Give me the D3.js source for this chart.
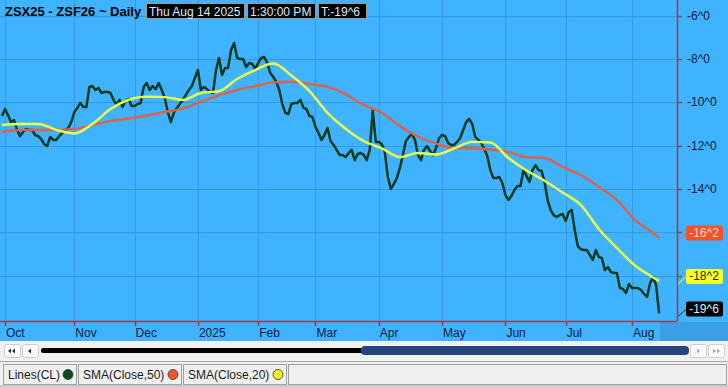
<!DOCTYPE html>
<html>
<head>
<meta charset="utf-8">
<script src="https://cdn.jsdelivr.net/npm/d3@7"></script>
<style>
  body { margin: 0; background: #f0f0f0; }
  svg { display: block; font-family: "Liberation Sans", Arial, sans-serif; }
</style>
</head>
<body>
<div id="chart"></div>
<script>
// ===== DATA =====
// daily close of the spread, one value per trading day (Sep 30 2024 .. Aug 14 2025)
const closes = [
  -10.63,-10.31,-10.59,-10.91,-10.82,-11.28,-11.56,-11.37,-11.23,-11.28,
  -11.28,-11.51,-11.56,-11.70,-11.93,-12.02,-11.60,-11.74,-11.74,-11.56,
  -11.42,-11.28,-11.19,-10.91,-10.45,-10.26,-10.03,-10.22,-10.22,-9.29,
  -9.25,-9.43,-9.34,-9.57,-9.52,-9.52,-9.57,-9.89,-10.12,-9.89,
  -10.22,-9.94,-9.85,-10.17,-10.17,-10.08,-10.03,-9.29,-9.11,-9.43,
  -9.25,-9.39,-9.11,-9.43,-9.80,-10.45,-10.91,-10.49,-10.26,-10.08,
  -9.89,-9.66,-9.43,-9.25,-8.88,-8.51,-9.43,-9.29,-9.39,-9.52,
  -9.57,-8.51,-7.95,-8.74,-8.42,-8.42,-7.58,-7.26,-7.95,-8.00,
  -8.00,-8.37,-8.18,-8.23,-8.46,-8.18,-7.95,-7.91,-8.18,-8.65,
  -8.83,-9.06,-9.43,-10.08,-10.49,-10.54,-10.08,-10.03,-10.03,-9.89,
  -10.26,-10.31,-10.63,-10.68,-11.14,-11.42,-11.74,-11.51,-11.19,-11.79,
  -11.97,-12.20,-12.43,-12.43,-12.53,-12.34,-12.20,-12.67,-12.39,-12.34,
  -12.43,-12.67,-12.20,-10.36,-11.83,-11.83,-11.93,-12.30,-13.45,-14.00,
  -13.77,-13.50,-13.03,-12.43,-11.79,-11.60,-11.46,-11.74,-12.43,-12.67,
  -12.20,-12.02,-12.25,-12.43,-12.11,-11.65,-11.51,-11.56,-11.88,-11.97,
  -11.97,-11.83,-11.65,-11.28,-10.91,-10.77,-11.00,-11.60,-11.74,-11.88,
  -12.16,-12.48,-13.13,-13.50,-13.50,-13.45,-13.73,-14.28,-14.51,-14.33,
  -14.05,-13.87,-13.87,-13.13,-13.40,-13.68,-13.13,-12.90,-13.13,-13.17,
  -13.68,-14.51,-14.97,-15.21,-15.30,-15.21,-15.16,-15.48,-15.07,-14.97,
  -15.90,-16.64,-16.78,-16.82,-16.82,-17.05,-17.28,-16.82,-17.15,-17.19,
  -17.75,-17.61,-17.84,-17.88,-17.88,-18.58,-18.62,-18.81,-18.39,-18.58,
  -18.58,-18.58,-18.67,-18.85,-18.99,-18.35,-18.07,-18.44,-19.75
];

// moving averages, read every 6th trading day
const smaIdx = [0,6,12,18,24,30,36,42,48,54,60,66,72,78,84,90,96,102,108,114,
  120,126,132,138,144,150,156,162,168,174,180,186,192,198,204,210,216,218];
const sma20 = [
  -11.05,-11.00,-11.00,-11.27,-11.44,-11.00,-10.31,-9.89,-9.74,-9.76,
  -9.89,-9.57,-9.49,-8.92,-8.51,-8.21,-8.76,-9.48,-10.49,-11.22,
  -11.79,-12.13,-12.53,-12.34,-12.41,-12.13,-11.83,-11.86,-12.57,-13.15,
  -13.62,-14.17,-14.74,-15.85,-16.73,-17.54,-18.09,-18.25
];
const sma50 = [
  -11.37,-11.28,-11.28,-11.28,-11.23,-11.05,-10.86,-10.75,-10.61,-10.45,
  -10.29,-9.97,-9.68,-9.43,-9.25,-9.08,-9.05,-9.15,-9.29,-9.62,
  -10.12,-10.48,-11.09,-11.58,-11.91,-12.11,-12.12,-12.18,-12.30,-12.53,
  -12.57,-12.99,-13.36,-13.91,-14.51,-15.44,-16.03,-16.25
];

// x axis: first trading day of each month (index into closes)
const monthLabels = ["Oct","Nov","Dec","2025","Feb","Mar","Apr","May","Jun","Jul","Aug"];
const monthIdx = [1,24,44,65,85,104,125,146,167,187,209];

// y axis ticks
const priceTicks = [-6,-8,-10,-12,-14,-16,-18];

const seriesNames = ["Lines(CL)","SMA(Close,50)","SMA(Close,20)"];
const seriesColors = ["#0b3a1c","#dd6248","#eaff45"];
const dotColors = ["#0b4a1c","#f2542a","#f4f01e"];

// ===== SIZE =====
const width = 728;
const height = 387;
const plot = { left: 0, top: 0, right: 677, bottom: 321 };
const blue = "#3fb3ff";
const grid = "#3499de";
const axisRed = "#a8383e";

d3.select("#chart").selectAll("*").remove();

const svg = d3.select("#chart")
  .append("svg")
  .attr("width", width)
  .attr("height", height);

const x = d3.scaleLinear().domain([1, 209]).range([5, 632]);
const y = d3.scaleLinear().domain([-6, -14]).range([15.7, 188.9]);

// eighths format, e.g. -19.75 -> "-19^6"
function fmt(v){
  const a = Math.abs(v);
  const w = Math.floor(a + 1e-6);
  const e = Math.round((a - w) * 8);
  return (v < 0 ? "-" : "") + w + "^" + e;
}

// background
svg.append("rect")
  .attr("width", width).attr("height", 341)
  .attr("fill", blue);

svg.append("rect")
  .attr("x", 660).attr("y", 322)
  .attr("width", 68).attr("height", 19)
  .attr("fill", "#3a9fe4");

// grid
const gridG = svg.append("g");

gridG.selectAll("line.h")
  .data(priceTicks)
  .join("line")
  .attr("class","h")
  .attr("x1", plot.left).attr("x2", plot.right)
  .attr("y1", d => Math.round(y(d)) + 0.5)
  .attr("y2", d => Math.round(y(d)) + 0.5)
  .attr("stroke", grid);

gridG.selectAll("line.v")
  .data(monthIdx)
  .join("line")
  .attr("class","v")
  .attr("y1", 0).attr("y2", plot.bottom)
  .attr("x1", d => Math.round(x(d)) + 0.5)
  .attr("x2", d => Math.round(x(d)) + 0.5)
  .attr("stroke", grid);

// clip
svg.append("clipPath").attr("id","clip")
  .append("rect")
  .attr("x", plot.left).attr("y", plot.top)
  .attr("width", plot.right - plot.left).attr("height", plot.bottom - plot.top);

const lineG = svg.append("g").attr("clip-path","url(#clip)");

const closeLine = d3.line()
  .x((d,i) => x(i))
  .y(d => y(d));

const smaLine = d3.line()
  .x(d => x(d[0]))
  .y(d => y(d[1]))
  .curve(d3.curveMonotoneX);

lineG.append("path")
  .datum(closes)
  .attr("d", closeLine)
  .attr("fill","none")
  .attr("stroke", seriesColors[0])
  .attr("stroke-width", 2.5)
  .attr("stroke-linejoin","round");

lineG.append("path")
  .datum(d3.zip(smaIdx, sma50))
  .attr("d", smaLine)
  .attr("fill","none")
  .attr("stroke", seriesColors[1])
  .attr("stroke-width", 2.4);

lineG.append("path")
  .datum(d3.zip(smaIdx, sma20))
  .attr("d", smaLine)
  .attr("fill","none")
  .attr("stroke", seriesColors[2])
  .attr("stroke-width", 2.4);

// last value labels
const lastVals = [
  { v: closes[closes.length - 1], fill: "#050505", text: "#d8ecff", line: "#0b3a1c" },
  { v: sma20[sma20.length - 1], fill: "#f4ff2a", text: "#2b2b10", line: "#eaff45" },
  { v: sma50[sma50.length - 1], fill: "#f2542a", text: "#ffd8cc", line: "#dd6248" }
];

// axes
svg.append("line")
  .attr("x1", plot.right + 0.5).attr("x2", plot.right + 0.5)
  .attr("y1", 0).attr("y2", plot.bottom)
  .attr("stroke", axisRed).attr("stroke-width", 1.5);

svg.append("line")
  .attr("x1", 0).attr("x2", plot.right)
  .attr("y1", plot.bottom + 0.5).attr("y2", plot.bottom + 0.5)
  .attr("stroke", axisRed).attr("stroke-width", 1.5);

const yAxis = svg.append("g");

yAxis.selectAll("line")
  .data(priceTicks)
  .join("line")
  .attr("x1", plot.right).attr("x2", plot.right + 5)
  .attr("y1", d => Math.round(y(d)) + 0.5)
  .attr("y2", d => Math.round(y(d)) + 0.5)
  .attr("stroke", axisRed).attr("stroke-width", 1.5);

// tick labels hidden behind a last-value box are not drawn
const visibleTicks = priceTicks.filter(t =>
  !lastVals.some(l => Math.abs(y(t) - (y(l.v) - 4)) < 14));

yAxis.selectAll("text")
  .data(visibleTicks)
  .join("text")
  .attr("x", 687)
  .attr("y", d => y(d) + 4)
  .style("font-size","12px")
  .style("fill","#0c1a3a")
  .text(d => fmt(d));

const xAxis = svg.append("g");

xAxis.selectAll("line")
  .data(monthIdx)
  .join("line")
  .attr("x1", d => Math.round(x(d)) + 0.5)
  .attr("x2", d => Math.round(x(d)) + 0.5)
  .attr("y1", plot.bottom).attr("y2", plot.bottom + 5)
  .attr("stroke", axisRed).attr("stroke-width", 1.5);

xAxis.selectAll("text")
  .data(monthIdx)
  .join("text")
  .attr("x", d => x(d) + 1)
  .attr("y", 337)
  .style("font-size","12px")
  .style("fill","#0c1a3a")
  .text((d,i) => monthLabels[i]);

const lastG = svg.selectAll("g.last")
  .data(lastVals)
  .join("g")
  .attr("class","last");

lastG.append("line")
  .attr("x1", plot.right + 1)
  .attr("y1", d => y(d.v) + 3)
  .attr("x2", 686)
  .attr("y2", d => y(d.v) - 4)
  .attr("stroke", d => d.line)
  .attr("stroke-width", 1);

lastG.append("rect")
  .attr("x", 686)
  .attr("y", d => y(d.v) - 12)
  .attr("width", 37)
  .attr("height", 15)
  .attr("rx", 2)
  .attr("fill", d => d.fill);

lastG.append("text")
  .attr("x", 704)
  .attr("y", d => y(d.v) - 0.5)
  .attr("text-anchor","middle")
  .style("font-size","12px")
  .style("fill", d => d.text)
  .text(d => fmt(d.v));

// header
svg.append("text")
  .attr("x", 5).attr("y", 16)
  .style("font-size","13px")
  .style("font-weight","bold")
  .style("fill","#000")
  .text("ZSX25 - ZSF26 ~ Daily");

const headerBoxes = [
  { x: 146, w: 98, t: "Thu Aug 14 2025" },
  { x: 247, w: 68, t: "1:30:00 PM" },
  { x: 318, w: 48, t: "T:" + fmt(closes[closes.length - 1]) }
];

const hb = svg.selectAll("g.hbox")
  .data(headerBoxes)
  .join("g")
  .attr("class","hbox");

hb.append("rect")
  .attr("x", d => d.x + 0.5).attr("y", 3.5)
  .attr("width", d => d.w).attr("height", 15)
  .attr("fill","#000")
  .attr("stroke","#9a9a9a");

hb.append("text")
  .attr("x", d => d.x + 3).attr("y", 15.5)
  .style("font-size","12px")
  .style("fill","#d8ecff")
  .text(d => d.t);

// ===== SCROLL BAR =====
svg.append("rect")
  .attr("x", 0).attr("y", 341)
  .attr("width", width).attr("height", 20)
  .attr("fill", "#f0f0f0");

const btns = [
  { x: 4, dir: -1, n: 2, c: "#333" },
  { x: 22, dir: -1, n: 1, c: "#333" },
  { x: 690, dir: 1, n: 1, c: "#aaa" },
  { x: 708, dir: 1, n: 2, c: "#aaa" }
];

const bg = svg.selectAll("g.btn")
  .data(btns)
  .join("g")
  .attr("class","btn")
  .attr("transform", d => `translate(${d.x},344)`);

bg.append("rect")
  .attr("x", 0.5).attr("y", 0.5)
  .attr("width", 16).attr("height", 13)
  .attr("rx", 2)
  .attr("fill","#fbfbfb")
  .attr("stroke","#cfcfcf");

bg.each(function(d){
  const g = d3.select(this);
  for(let k = 0; k < d.n; k++){
    const cx = 8 + (d.n === 2 ? (k === 0 ? -2 : 2) : 0);
    const p = d.dir < 0
      ? `M${cx - 2},7 L${cx + 1},4.5 L${cx + 1},9.5 Z`
      : `M${cx + 2},7 L${cx - 1},4.5 L${cx - 1},9.5 Z`;
    g.append("path").attr("d", p).attr("fill", d.c);
  }
});

svg.append("rect")
  .attr("x", 41).attr("y", 348)
  .attr("width", 325).attr("height", 5)
  .attr("rx", 2)
  .attr("fill", "#000");

svg.append("rect")
  .attr("x", 361).attr("y", 346)
  .attr("width", 328).attr("height", 9)
  .attr("rx", 4)
  .attr("fill", "#24467a");

// ===== LEGEND ROW =====
svg.append("line")
  .attr("x1", 0).attr("x2", width)
  .attr("y1", 361.5).attr("y2", 361.5)
  .attr("stroke", "#a8a8a8");

svg.append("rect")
  .attr("x", 0).attr("y", 362)
  .attr("width", width).attr("height", 25)
  .attr("fill", "#f0f0f0");

const tabs = [
  { x: 3, w: 73 },
  { x: 78, w: 103 },
  { x: 183, w: 103 }
];

const tg = svg.selectAll("g.tab")
  .data(tabs)
  .join("g")
  .attr("class","tab")
  .attr("transform", d => `translate(${d.x},364)`);

tg.append("rect")
  .attr("x", 0.5).attr("y", 0.5)
  .attr("width", d => d.w).attr("height", 20)
  .attr("fill", "#f0f0f0")
  .attr("stroke", "#a0a0a0");

tg.append("text")
  .attr("x", 5).attr("y", 15)
  .style("font-size","12px")
  .style("fill","#1a1a1a")
  .text((d,i) => seriesNames[i]);

tg.append("circle")
  .attr("cx", d => d.w - 8)
  .attr("cy", 10.5)
  .attr("r", 5)
  .attr("fill", (d,i) => dotColors[i])
  .attr("stroke", "#333")
  .attr("stroke-width", 0.8);

svg.append("rect")
  .attr("x", 288.5).attr("y", 364.5)
  .attr("width", 438).attr("height", 20)
  .attr("fill", "#f0f0f0")
  .attr("stroke", "#a0a0a0");

svg.append("rect")
  .attr("x", 0).attr("y", 385)
  .attr("width", width).attr("height", 2)
  .attr("fill", "#c8c8c8");
</script>
</body>
</html>
